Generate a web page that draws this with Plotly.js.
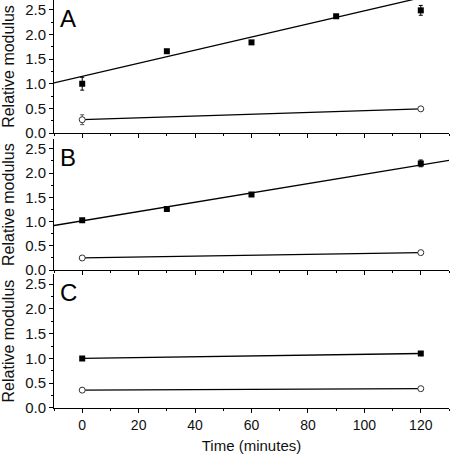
<!DOCTYPE html>
<html><head><meta charset="utf-8">
<script src="https://cdn.plot.ly/plotly-3.0.1.min.js"></script>
<style>html,body{margin:0;padding:0;background:#fff}#chart{width:450px;height:454px}</style>
</head><body><div id="chart"></div>
<script>
// ---- data ----
const panelLabels = ['A', 'B', 'C'];
const timeA = [0, 30, 60, 90, 120];
const filledA = [1.0, 1.66, 1.84, 2.37, 2.49];
const filledErrA = [0.13, 0.03, 0.03, 0.03, 0.1];
const timeOpen = [0, 120];
const openA = [0.27, 0.49];
const openErrA = [0.1, 0.02];
const fitSlopeA = 0.0133, fitInterceptA = 1.15;

const timeB = [0, 30, 60, 120];
const filledB = [1.03, 1.26, 1.56, 2.2];
const filledErrB = [0.02, 0.02, 0.04, 0.07];
const openB = [0.25, 0.36];
const openErrB = [0.02, 0.03];
const fitSlopeB = 0.0096, fitInterceptB = 1.015;

const timeC = [0, 120];
const filledC = [1.0, 1.1];
const filledErrC = [0.02, 0.02];
const openC = [0.36, 0.39];
const openErrC = [0.04, 0.03];

const xRange = [-10, 130];
const yRange = [0, 2.7];
const xTickVals = [0, 20, 40, 60, 80, 100, 120];
const yTickVals = [0, 0.5, 1.0, 1.5, 2.0, 2.5];
const yTickText = ['0.0', '0.5', '1.0', '1.5', '2.0', '2.5'];

// ---- build traces ----
const FONT = 'Liberation Sans, Arial, sans-serif';
function fitLine(slope, intercept, xa, ya) {
  return {x: xRange, y: xRange.map(t => intercept + slope * t), xaxis: xa, yaxis: ya,
    mode: 'lines', line: {color: '#000', width: 1.3}, hoverinfo: 'skip', showlegend: false};
}
function filled(x, y, err, xa, ya) {
  return {x, y, xaxis: xa, yaxis: ya, mode: 'markers',
    marker: {symbol: 'square', size: 6, color: '#000'},
    error_y: {type: 'data', array: err, visible: true, color: '#000', thickness: 1, width: 2},
    showlegend: false};
}
function open(x, y, err, xa, ya, withLine) {
  return {x, y, xaxis: xa, yaxis: ya, mode: withLine ? 'lines+markers' : 'markers',
    line: {color: '#000', width: 1.3},
    marker: {symbol: 'circle', size: 6, color: '#fff', line: {color: '#333', width: 1}},
    error_y: {type: 'data', array: err, visible: true, color: '#555', thickness: 1, width: 2},
    showlegend: false};
}

const traces = [
  fitLine(fitSlopeA, fitInterceptA, 'x', 'y'),
  open(timeOpen, openA, openErrA, 'x', 'y', true),
  filled(timeA, filledA, filledErrA, 'x', 'y'),
  fitLine(fitSlopeB, fitInterceptB, 'x2', 'y2'),
  open(timeOpen, openB, openErrB, 'x2', 'y2', true),
  filled(timeB, filledB, filledErrB, 'x2', 'y2'),
  Object.assign(filled(timeC, filledC, filledErrC, 'x3', 'y3'), {mode: 'lines+markers', line: {color: '#000', width: 1.3}}),
  open(timeC, openC, openErrC, 'x3', 'y3', true)
];

function xAxis(anchor, showLabels, title) {
  const ax = {range: xRange, anchor, showgrid: false, zeroline: false, showline: true,
    linecolor: '#000', linewidth: 1, ticks: 'outside', ticklen: 4, tickcolor: '#000',
    tickvals: xTickVals, showticklabels: showLabels,
    tickfont: {family: FONT, size: 14, color: '#111'},
    minor: {dtick: 10, ticks: 'outside', ticklen: 2, tickcolor: '#000', showgrid: false}};
  if (title) ax.title = {text: title, font: {family: FONT, size: 15, color: '#111'}, standoff: 9};
  return ax;
}
function yAxis(anchor, domain) {
  return {range: yRange, domain, anchor, showgrid: false, zeroline: false, showline: true,
    linecolor: '#000', linewidth: 1, ticks: 'outside', ticklen: 4, tickcolor: '#000',
    tickvals: yTickVals, ticktext: yTickText,
    tickfont: {family: FONT, size: 15, color: '#111'},
    minor: {dtick: 0.25, ticks: 'outside', ticklen: 2, tickcolor: '#000', showgrid: false},
    title: {text: 'Relative modulus', font: {family: FONT, size: 16, color: '#111'}, standoff: 10}};
}

const layout = {
  width: 450, height: 454,
  margin: {l: 54, r: 1, t: 0, b: 46},
  paper_bgcolor: '#fff', plot_bgcolor: '#fff',
  xaxis: Object.assign(xAxis('y', false), {domain: [0, 1]}),
  yaxis: yAxis('x', [0.674, 1]),
  xaxis2: Object.assign(xAxis('y2', false), {domain: [0, 1]}),
  yaxis2: yAxis('x2', [0.338, 0.659]),
  xaxis3: Object.assign(xAxis('y3', true, 'Time (minutes)'), {domain: [0, 1]}),
  yaxis3: yAxis('x3', [0, 0.328]),
  annotations: panelLabels.map((t, i) => ({
    text: t, xref: i === 0 ? 'x' : 'x' + (i + 1), yref: i === 0 ? 'y' : 'y' + (i + 1),
    x: -8.5, y: 2.33, xanchor: 'left', yanchor: 'middle', showarrow: false,
    font: {family: FONT, size: 24, color: '#000'}
  })),
  showlegend: false
};

Plotly.newPlot('chart', traces, layout, {displayModeBar: false, staticPlot: true});
</script></body></html>
